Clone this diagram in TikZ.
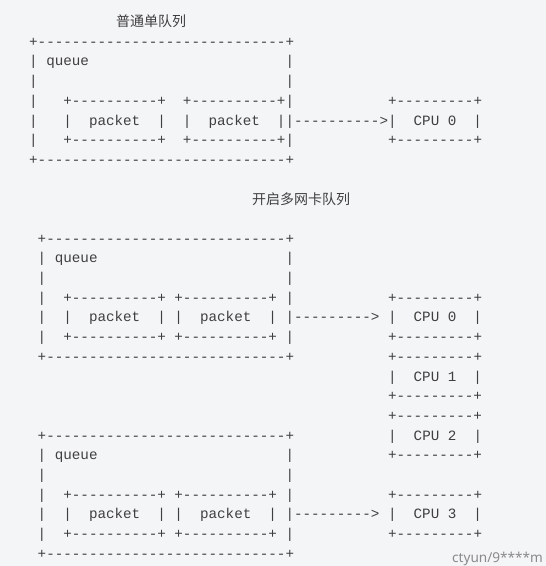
\documentclass[tikz,border=0pt]{standalone}
\usepackage{fontspec}
\setmonofont{Liberation Mono}
\setsansfont{Noto Sans}
\newfontfamily\cjkfont{Noto Sans CJK SC}
\definecolor{bgcol}{HTML}{F4F5F7}
\definecolor{inkcol}{HTML}{3F3F3F}
\definecolor{markcol}{HTML}{8A8A8A}
% blank run of n monospace cells
\newcommand{\gap}[1]{\hspace*{#1\dimexpr0.6em\relax}}
\begin{document}
\begin{tikzpicture}[x=1pt, y=-1pt,
    asc/.style={font=\ttfamily\fontsize{14.24}{16}\selectfont, text=inkcol, anchor=base west, inner sep=0pt},
    ttl/.style={font=\cjkfont\fontsize{14}{16}\selectfont, text=inkcol, anchor=west, inner sep=0pt},
    wmark/.style={font=\sffamily\fontsize{13.6}{16}\selectfont, text=markcol, anchor=base west, inner sep=0pt}]
  \fill[bgcol] (0,0) rectangle (546,566);
  \useasboundingbox (0,0) rectangle (546,566);
  % titles
  \node[ttl] (t1) at (116,21) {普通单队列};
  \node[ttl] (t2) at (252,199) {开启多网卡队列};
  % ascii rows, column 0 starts at x=29
  \foreach \rw/\txt in {
    1/{+-----------------------------+},
    2/{|\gap1queue\gap{23}|},
    3/{|\gap{29}|},
    4/{|\gap3+----------+\gap2+----------+|\gap{11}+---------+},
    5/{|\gap3|\gap2packet\gap2|\gap2|\gap2packet\gap2||---------->|\gap2CPU\gap{1}0\gap2|},
    6/{|\gap3+----------+\gap2+----------+|\gap{11}+---------+},
    7/{+-----------------------------+},
    11/{\gap1+----------------------------+},
    12/{\gap1|\gap1queue\gap{22}|},
    13/{\gap1|\gap{28}|},
    14/{\gap1|\gap2+----------+\gap1+----------+\gap1|\gap{11}+---------+},
    15/{\gap1|\gap2|\gap2packet\gap2|\gap1|\gap2packet\gap2|\gap1|--------->\gap1|\gap2CPU\gap{1}0\gap2|},
    16/{\gap1|\gap2+----------+\gap1+----------+\gap1|\gap{11}+---------+},
    17/{\gap1+----------------------------+\gap{11}+---------+},
    18/{\gap{42}|\gap2CPU\gap{1}1\gap2|},
    19/{\gap{42}+---------+},
    20/{\gap{42}+---------+},
    21/{\gap1+----------------------------+\gap{11}|\gap2CPU\gap{1}2\gap2|},
    22/{\gap1|\gap1queue\gap{22}|\gap{11}+---------+},
    23/{\gap1|\gap{28}|},
    24/{\gap1|\gap2+----------+\gap1+----------+\gap1|\gap{11}+---------+},
    25/{\gap1|\gap2|\gap2packet\gap2|\gap1|\gap2packet\gap2|\gap1|--------->\gap1|\gap2CPU\gap{1}3\gap2|},
    26/{\gap1|\gap2+----------+\gap1+----------+\gap1|\gap{11}+---------+},
    27/{\gap1+----------------------------+}}
    \node[asc] (l\rw) at (29,{26.6+19.69*\rw}) {\txt};
  % watermark
  \node[wmark] (wm) at (452,562) {ctyun/9****m};
\end{tikzpicture}
\end{document}
